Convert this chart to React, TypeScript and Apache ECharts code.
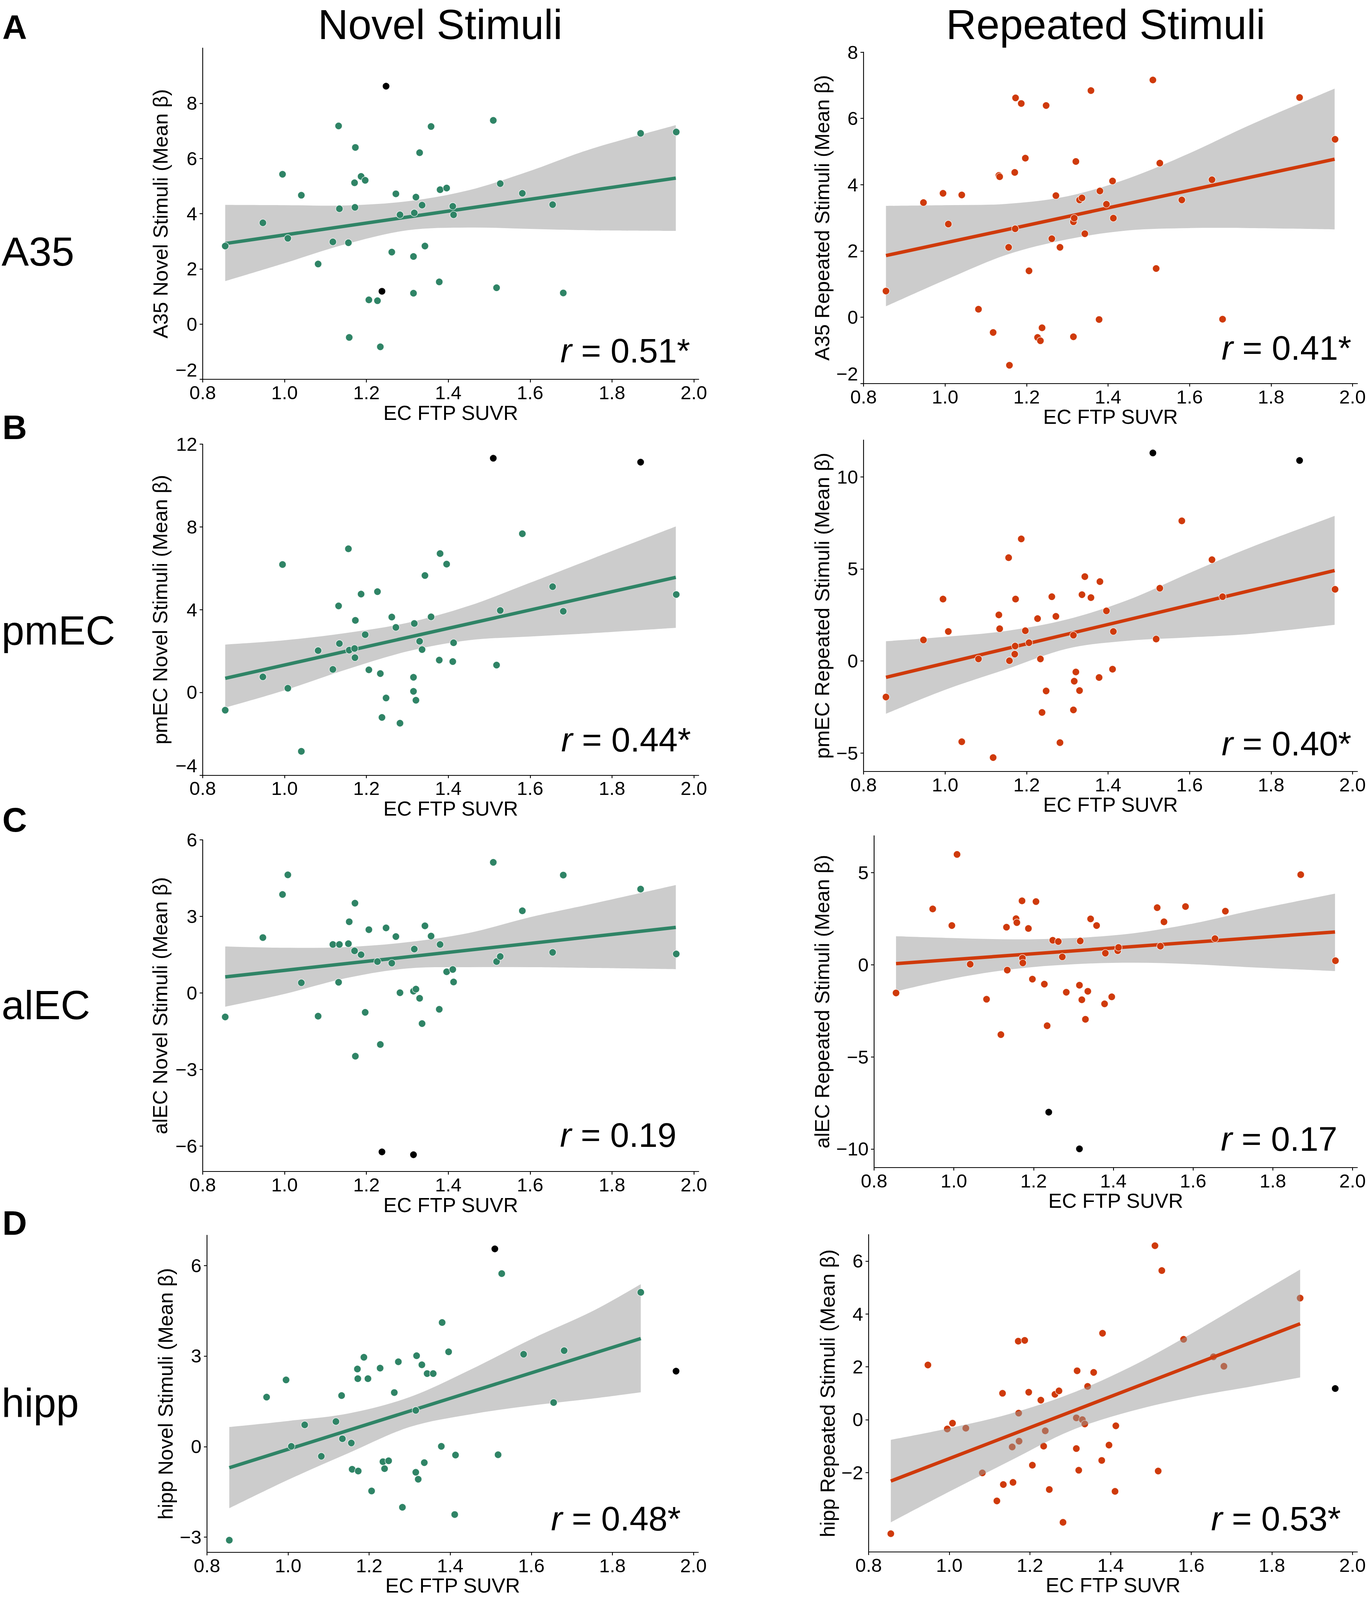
import React, { useEffect, useRef } from 'react';
import * as echarts from 'echarts';

// ---------- data ----------
// EC FTP SUVR (shared x for every panel, one value per participant)
const SUVR = [0.855, 0.947, 0.995, 1.008, 1.041, 1.082, 1.118, 1.132, 1.134, 1.156, 1.158, 1.171, 1.172, 1.173, 1.187,
  1.197, 1.206, 1.227, 1.234, 1.238, 1.248, 1.262, 1.272, 1.282, 1.315, 1.315, 1.317, 1.321, 1.330, 1.336, 1.343,
  1.358, 1.378, 1.380, 1.396, 1.411, 1.413, 1.510, 1.518, 1.527, 1.581, 1.655, 1.681, 1.870, 1.957];

const A35_NOVEL = [2.83, 3.67, 5.43, 3.11, 4.67, 2.18, 2.98, 7.18, 4.18, 2.95, -0.48, 5.12, 4.23, 6.40, 5.35,
  5.21, 0.88, 0.85, -0.82, 1.19, 8.62, 2.61, 4.72, 3.96, 1.12, 2.45, 4.03, 4.60, 6.21, 4.31, 2.83,
  7.16, 1.53, 4.87, 4.93, 4.27, 3.96, 7.38, 1.32, 5.09, 4.74, 4.33, 1.13, 6.91, 6.96];
const A35_REPEATED = [0.79, 3.46, 3.74, 2.81, 3.69, 0.24, -0.46, 4.28, 4.24, 2.11, -1.45, 4.37, 2.67, 6.62, 6.45,
  4.80, 1.40, -0.61, -0.71, -0.32, 6.39, 2.37, 3.67, 2.11, -0.59, 2.88, 2.99, 4.70, 3.54, 3.60, 2.52,
  6.84, -0.07, 3.81, 3.41, 4.11, 2.99, 7.16, 1.47, 4.65, 3.54, 4.15, -0.06, 6.63, 5.37];
const PMEC_NOVEL = [-0.86, 0.75, 6.18, 0.20, -2.85, 2.02, 1.11, 4.18, 2.36, 6.94, 2.04, 2.12, 1.68, 3.48, 4.75,
  2.79, 1.09, 4.87, 0.91, -1.21, -0.27, 3.64, 3.14, -1.49, 0.73, 0.05, 3.33, -0.38, 2.47, 2.07, 5.65,
  3.65, 1.56, 6.71, 6.20, 1.49, 2.40, 11.32, 1.32, 3.96, 7.67, 5.11, 3.92, 11.13, 4.73];
const PMEC_REPEATED = [-1.96, 1.14, 3.36, 1.60, -4.39, 0.11, -5.25, 2.50, 1.75, 5.61, 0.01, 0.37, 0.81, 3.36, 6.63,
  1.64, 0.99, 2.30, 0.11, -2.80, -1.63, 3.49, 2.42, -4.44, -2.66, 1.40, -1.10, -0.60, -1.61, 3.60, 4.58,
  3.44, -0.90, 4.31, 2.72, -0.45, 1.60, 11.30, 1.19, 3.95, 7.61, 5.50, 3.49, 10.89, 3.89];
const ALEC_NOVEL = [-0.94, 2.17, 3.86, 4.63, 0.40, -0.91, 1.90, 0.42, 1.90, 1.93, 2.79, 1.65, 3.52, -2.48, 1.50,
  -0.76, 2.48, 1.23, -2.02, -6.23, 2.55, 1.17, 2.21, 0.01, -6.34, 0.07, 1.72, 0.15, -0.21, -1.20, 2.63,
  2.23, -0.64, 1.90, 0.83, 0.92, 0.43, 5.12, 1.23, 1.43, 3.22, 1.59, 4.62, 4.07, 1.53];
const ALEC_REPEATED = [-1.53, 3.03, 2.13, 5.99, 0.03, -1.87, -3.79, 2.04, -0.29, 2.50, 2.29, 3.47, 0.36, 0.10, 1.97,
  -0.78, 3.43, -1.05, -3.31, -8.00, 1.33, 1.26, 0.43, -1.49, -9.99, -1.11, 1.29, -1.90, -2.96, -1.44, 2.49,
  2.13, -2.12, 0.63, -1.74, 0.76, 0.94, 3.10, 1.01, 2.33, 3.16, 1.42, 2.91, 4.89, 0.22];
const HIPP_NOVEL = [-3.10, 1.64, 2.21, 0.01, 0.72, -0.32, 0.83, 1.69, 0.26, 0.12, -0.75, 2.57, 2.25, -0.81, 2.96,
  2.25, -1.47, 2.60, -0.50, -0.73, -0.47, 1.79, 2.81, -2.01, -0.85, 1.20, 3.01, -1.08, 2.71, -0.53, 2.42,
  2.42, 0.01, 4.11, 3.14, -2.25, -0.28, 6.55, -0.27, 5.73, 3.06, 1.46, 3.18, 5.11, 2.50];
const HIPP_REPEATED = [-4.31, 2.07, -0.35, -0.13, -0.32, -2.01, -3.07, 1.00, -2.45, -1.03, -2.37, 2.97, 0.25, -0.81, 3.00,
  1.04, -1.72, 0.74, -1.00, -0.42, -2.64, 0.96, 1.09, -3.88, -1.09, 0.07, 1.85, -1.91, 0.00, -0.16, 1.26,
  1.79, -1.54, 3.27, -0.96, -2.71, -0.23, 6.58, -1.94, 5.64, 3.04, 2.38, 2.02, 4.60, 1.18];

// indices of excluded (black) participants
const OUT_A35_NOVEL = [19, 20];
const OUT_A35_REPEATED: number[] = [];
const OUT_PMEC_NOVEL = [37, 43];
const OUT_PMEC_REPEATED = [37, 43];
const OUT_ALEC_NOVEL = [19, 24];
const OUT_ALEC_REPEATED = [19, 24];
const OUT_HIPP_NOVEL = [37, 44];
const OUT_HIPP_REPEATED = [44];

// regression lines (end points)
const FIT_X = [0.855, 1.956];
const FIT_X_HIPP = [0.855, 1.870];
const FIT_A35_NOVEL = [2.92, 5.29];
const FIT_A35_REPEATED = [1.86, 4.77];
const FIT_PMEC_NOVEL = [0.68, 5.56];
const FIT_PMEC_REPEATED = [-0.89, 4.91];
const FIT_ALEC_NOVEL = [0.63, 2.57];
const FIT_ALEC_REPEATED = [0.06, 1.78];
const FIT_HIPP_NOVEL = [-0.70, 3.58];
const FIT_HIPP_REPEATED = [-2.32, 3.63];

// confidence bands read at these x positions
const BAND_X = [0.855, 1.0, 1.15, 1.3, 1.45, 1.6, 1.75, 1.956];
const BAND_X_HIPP = [0.855, 1.0, 1.15, 1.3, 1.45, 1.6, 1.75, 1.870];
const A35_NOVEL_UP = [4.32, 4.31, 4.30, 4.45, 4.85, 5.55, 6.35, 7.21];
const A35_NOVEL_LO = [1.56, 2.21, 2.90, 3.40, 3.50, 3.45, 3.40, 3.38];
const A35_REPEATED_UP = [3.36, 3.38, 3.42, 3.65, 4.19, 4.95, 5.81, 6.90];
const A35_REPEATED_LO = [0.33, 1.12, 1.88, 2.35, 2.62, 2.69, 2.69, 2.65];
const PMEC_NOVEL_UP = [2.31, 2.52, 2.87, 3.36, 4.18, 5.30, 6.45, 8.02];
const PMEC_NOVEL_LO = [-0.74, 0.10, 1.10, 1.98, 2.52, 2.70, 2.86, 3.12];
const PMEC_REPEATED_UP = [1.07, 1.31, 1.63, 2.26, 3.32, 4.78, 6.17, 7.88];
const PMEC_REPEATED_LO = [-2.87, -1.57, -0.45, 0.67, 1.10, 1.28, 1.47, 1.96];
const ALEC_NOVEL_UP = [1.82, 1.77, 1.80, 1.99, 2.35, 2.97, 3.49, 4.23];
const ALEC_NOVEL_LO = [-0.54, -0.04, 0.58, 0.96, 1.01, 1.01, 0.98, 0.93];
const ALEC_REPEATED_UP = [1.55, 1.45, 1.38, 1.45, 1.71, 2.24, 2.96, 3.86];
const ALEC_REPEATED_LO = [-1.44, -0.74, -0.23, 0.03, 0.11, 0.03, -0.14, -0.34];
const HIPP_NOVEL_UP = [0.65, 0.85, 1.10, 1.64, 2.55, 3.56, 4.48, 5.38];
const HIPP_NOVEL_LO = [-2.04, -1.10, -0.21, 0.65, 1.07, 1.36, 1.59, 1.80];
const HIPP_REPEATED_UP = [-0.76, -0.32, 0.22, 0.98, 2.00, 3.25, 4.60, 5.68];
const HIPP_REPEATED_LO = [-3.88, -2.72, -1.56, -0.42, 0.32, 0.85, 1.26, 1.60];

// correlation labels
const R_VALUES = ['0.51*', '0.41*', '0.44*', '0.40*', '0.19', '0.17', '0.48*', '0.53*'];

// tick labels
const X_TICKS = [0.8, 1.0, 1.2, 1.4, 1.6, 1.8, 2.0];
const Y_TICKS_A35_NOVEL = [-2, 0, 2, 4, 6, 8];
const Y_TICKS_A35_REPEATED = [-2, 0, 2, 4, 6, 8];
const Y_TICKS_PMEC_NOVEL = [-4, 0, 4, 8, 12];
const Y_TICKS_PMEC_REPEATED = [-5, 0, 5, 10];
const Y_TICKS_ALEC_NOVEL = [-6, -3, 0, 3, 6];
const Y_TICKS_ALEC_REPEATED = [-10, -5, 0, 5];
const Y_TICKS_HIPP_NOVEL = [-3, 0, 3, 6];
const Y_TICKS_HIPP_REPEATED = [-2, 0, 2, 4, 6];

const COLUMN_TITLES = ['Novel Stimuli', 'Repeated Stimuli'];
const ROW_LETTERS = ['A', 'B', 'C', 'D'];
const ROW_REGIONS = ['A35', 'pmEC', 'alEC', 'hipp'];

// ---------- styling / layout (reference pixel units, 3500 x 4694) ----------
const REF_W = 3500;
const REF_H = 4694;
const GREEN = '#2f8466';
const RED = '#cf3a0b';
const FONT = '"Liberation Sans", Arial, Helvetica, sans-serif';
const F_TICK = 56;
const F_AXIS_NAME = 60;
const F_R = 100;
const F_TITLE = 123;
const F_REGION = 120;
const F_LETTER = 100;

const PANELS = [
  { y: A35_NOVEL, out: OUT_A35_NOVEL, fx: FIT_X, fy: FIT_A35_NOVEL, bx: BAND_X, up: A35_NOVEL_UP, lo: A35_NOVEL_LO, ticks: Y_TICKS_A35_NOVEL, min: -2, max: 10, name: 'A35 Novel Stimuli (Mean β)', color: GREEN },
  { y: A35_REPEATED, out: OUT_A35_REPEATED, fx: FIT_X, fy: FIT_A35_REPEATED, bx: BAND_X, up: A35_REPEATED_UP, lo: A35_REPEATED_LO, ticks: Y_TICKS_A35_REPEATED, min: -2, max: 8, name: 'A35 Repeated Stimuli (Mean β)', color: RED },
  { y: PMEC_NOVEL, out: OUT_PMEC_NOVEL, fx: FIT_X, fy: FIT_PMEC_NOVEL, bx: BAND_X, up: PMEC_NOVEL_UP, lo: PMEC_NOVEL_LO, ticks: Y_TICKS_PMEC_NOVEL, min: -4, max: 12, name: 'pmEC Novel Stimuli (Mean β)', color: GREEN },
  { y: PMEC_REPEATED, out: OUT_PMEC_REPEATED, fx: FIT_X, fy: FIT_PMEC_REPEATED, bx: BAND_X, up: PMEC_REPEATED_UP, lo: PMEC_REPEATED_LO, ticks: Y_TICKS_PMEC_REPEATED, min: -6, max: 12, name: 'pmEC Repeated Stimuli (Mean β)', color: RED },
  { y: ALEC_NOVEL, out: OUT_ALEC_NOVEL, fx: FIT_X, fy: FIT_ALEC_NOVEL, bx: BAND_X, up: ALEC_NOVEL_UP, lo: ALEC_NOVEL_LO, ticks: Y_TICKS_ALEC_NOVEL, min: -7, max: 6, name: 'alEC Novel Stimuli (Mean β)', color: GREEN },
  { y: ALEC_REPEATED, out: OUT_ALEC_REPEATED, fx: FIT_X, fy: FIT_ALEC_REPEATED, bx: BAND_X, up: ALEC_REPEATED_UP, lo: ALEC_REPEATED_LO, ticks: Y_TICKS_ALEC_REPEATED, min: -11, max: 7, name: 'alEC Repeated Stimuli (Mean β)', color: RED },
  { y: HIPP_NOVEL, out: OUT_HIPP_NOVEL, fx: FIT_X_HIPP, fy: FIT_HIPP_NOVEL, bx: BAND_X_HIPP, up: HIPP_NOVEL_UP, lo: HIPP_NOVEL_LO, ticks: Y_TICKS_HIPP_NOVEL, min: -3.5, max: 7, name: 'hipp Novel Stimuli (Mean β)', color: GREEN },
  { y: HIPP_REPEATED, out: OUT_HIPP_REPEATED, fx: FIT_X_HIPP, fy: FIT_HIPP_REPEATED, bx: BAND_X_HIPP, up: HIPP_REPEATED_UP, lo: HIPP_REPEATED_LO, ticks: Y_TICKS_HIPP_REPEATED, min: -5, max: 7, name: 'hipp Repeated Stimuli (Mean β)', color: RED },
];

const LAYOUT = [
  { left: 519, top: 141, width: 1270, height: 972, gap: 82, xgap: 68, rx: 1767, ry: 1029, bandOnTop: false, minAtCorner: true },
  { left: 2211, top: 153, width: 1267, height: 972, gap: 80, xgap: 68, rx: 3460, ry: 1020, bandOnTop: false, minAtCorner: true },
  { left: 519, top: 1303, width: 1270, height: 971, gap: 83, xgap: 68, rx: 1769, ry: 2170, bandOnTop: false, minAtCorner: true },
  { left: 2211, top: 1291, width: 1267, height: 972, gap: 80, xgap: 68, rx: 3460, ry: 2181, bandOnTop: false, minAtCorner: false },
  { left: 519, top: 2464, width: 1270, height: 973, gap: 83, xgap: 68, rx: 1732, ry: 3330, bandOnTop: false, minAtCorner: false },
  { left: 2238, top: 2452, width: 1240, height: 973, gap: 107, xgap: 68, rx: 3424, ry: 3341, bandOnTop: false, minAtCorner: false },
  { left: 530, top: 3624, width: 1258, height: 930, gap: 80, xgap: 63, rx: 1743, ry: 4455, bandOnTop: false, minAtCorner: false },
  { left: 2224, top: 3622, width: 1254, height: 931, gap: 79, xgap: 63, rx: 3433, ry: 4455, bandOnTop: true, minAtCorner: false },
];

const TITLE_POS = [{ x: 1127, y: 72 }, { x: 2831, y: 72 }];
const LETTER_Y = [78, 1253, 2405, 3588];
const REGION_Y = [737, 1849, 2948, 4115];

const fmtY = (v: number) => (v < 0 ? '\u2212' + Math.abs(v) : String(v));

// smooth band outline (drawn through the points given by the axes)
function splineTo(ctx: any, pts: number[][]) {
  for (let i = 0; i < pts.length - 1; i++) {
    const p0 = pts[i - 1] || pts[i];
    const p1 = pts[i];
    const p2 = pts[i + 1];
    const p3 = pts[i + 2] || pts[i + 1];
    ctx.bezierCurveTo(
      p1[0] + (p2[0] - p0[0]) / 6, p1[1] + (p2[1] - p0[1]) / 6,
      p2[0] - (p3[0] - p1[0]) / 6, p2[1] - (p3[1] - p1[1]) / 6,
      p2[0], p2[1]);
  }
}
let registered = false;
function registerBand() {
  if (registered) return;
  registered = true;
  const Band = (echarts as any).graphic.extendShape({
    shape: { up: [], lo: [] },
    buildPath(ctx: any, shape: any) {
      const up = shape.up as number[][];
      const lo = (shape.lo as number[][]).slice().reverse();
      if (!up.length) return;
      ctx.moveTo(up[0][0], up[0][1]);
      splineTo(ctx, up);
      ctx.lineTo(lo[0][0], lo[0][1]);
      splineTo(ctx, lo);
      ctx.closePath();
    },
  });
  (echarts as any).graphic.registerShape('ciband', Band);
}

function buildOption(W: number, H: number) {
  const sx = W / REF_W;
  const sy = H / REF_H;
  const fs = Math.min(sx, sy);
  const grid: any[] = [];
  const xAxis: any[] = [];
  const yAxis: any[] = [];
  const series: any[] = [];
  const graphic: any[] = [];

  PANELS.forEach((p, i) => {
    const L = LAYOUT[i];
    grid.push({ left: L.left * sx, top: L.top * sy, width: L.width * sx, height: L.height * sy, containLabel: false });
    xAxis.push({
      type: 'value', gridIndex: i, min: 0.8, max: 2.012,
      axisLine: { show: true, onZero: false, lineStyle: { color: '#000', width: 2.5 * fs } },
      axisTick: { show: true, length: 9 * fs, lineStyle: { color: '#000', width: 2.5 * fs }, customValues: X_TICKS },
      axisLabel: { show: true, customValues: X_TICKS, fontSize: F_TICK * fs, color: '#000', margin: 11 * sy, fontFamily: FONT, formatter: (v: number) => v.toFixed(1) },
      splitLine: { show: false },
      name: 'EC FTP SUVR', nameLocation: 'middle', nameGap: L.xgap * sy,
      nameTextStyle: { fontSize: F_AXIS_NAME * fs, color: '#000', fontFamily: FONT },
    });
    const yLabel: any = { show: true, customValues: p.ticks, fontSize: F_TICK * fs, color: '#000', margin: 14 * sx, fontFamily: FONT, formatter: fmtY };
    if (L.minAtCorner) yLabel.verticalAlignMinLabel = 'bottom';
    yAxis.push({
      type: 'value', gridIndex: i, min: p.min, max: p.max,
      axisLine: { show: true, onZero: false, lineStyle: { color: '#000', width: 2.5 * fs } },
      axisTick: { show: true, length: 9 * fs, lineStyle: { color: '#000', width: 2.5 * fs }, customValues: p.ticks },
      axisLabel: yLabel,
      splitLine: { show: false },
      name: p.name, nameLocation: 'middle', nameGap: L.gap * sx, nameRotate: 90,
      nameTextStyle: { fontSize: F_AXIS_NAME * fs, color: '#000', fontFamily: FONT },
    });

    const zBand = L.bandOnTop ? 3 : 2;
    const zLine = L.bandOnTop ? 4 : 3;
    const zScatter = L.bandOnTop ? 2 : 4;
    const bandColor = L.bandOnTop ? 'rgba(153,153,153,0.5)' : '#cccccc';

    series.push({
      type: 'custom', xAxisIndex: i, yAxisIndex: i, z: zBand, silent: true,
      data: [[p.bx[0], p.lo[0]]],
      encode: { x: 0, y: 1 },
      renderItem: (_params: any, api: any) => ({
        type: 'ciband',
        shape: {
          up: p.bx.map((x, k) => api.coord([x, p.up[k]])),
          lo: p.bx.map((x, k) => api.coord([x, p.lo[k]])),
        },
        style: { fill: bandColor, stroke: null, lineWidth: 0 },
      }),
    });
    series.push({
      type: 'line', xAxisIndex: i, yAxisIndex: i,
      data: p.fx.map((x, k) => [x, p.fy[k]]), symbol: 'none',
      lineStyle: { color: p.color, width: 10 * fs }, silent: true, z: zLine,
    });
    series.push({
      type: 'scatter', xAxisIndex: i, yAxisIndex: i, symbolSize: 21 * fs, z: zScatter,
      itemStyle: { color: p.color, borderColor: 'rgba(255,255,255,0.85)', borderWidth: 1.5 * fs, opacity: 1 },
      data: SUVR.map((x, k) => (p.out.includes(k)
        ? { value: [x, p.y[k]], itemStyle: { color: '#000' } }
        : { value: [x, p.y[k]] })),
    });

    graphic.push({
      type: 'text', x: L.rx * sx, y: L.ry * sy, z: 100,
      style: {
        text: '{i|r} = ' + R_VALUES[i],
        rich: { i: { fontStyle: 'italic', fontSize: F_R * fs, fontFamily: FONT, fill: '#000' } },
        fontSize: F_R * fs, fontFamily: FONT, fill: '#000',
        align: 'right', verticalAlign: 'middle',
      },
    });
  });

  COLUMN_TITLES.forEach((t, c) => {
    graphic.push({
      type: 'text', x: TITLE_POS[c].x * sx, y: TITLE_POS[c].y * sy,
      style: { text: t, fontSize: F_TITLE * fs, fontFamily: FONT, fill: '#000', align: 'center', verticalAlign: 'middle' },
    });
  });
  ROW_LETTERS.forEach((t, r) => {
    graphic.push({
      type: 'text', x: 6 * sx, y: LETTER_Y[r] * sy,
      style: { text: t, fontSize: F_LETTER * fs, fontWeight: 'bold', fontFamily: FONT, fill: '#000', align: 'left', verticalAlign: 'middle' },
    });
    graphic.push({
      type: 'text', x: 4 * sx, y: REGION_Y[r] * sy,
      style: { text: ROW_REGIONS[r], fontSize: F_REGION * fs, fontFamily: FONT, fill: '#000', align: 'left', verticalAlign: 'middle' },
    });
  });

  return { animation: false, backgroundColor: '#ffffff', grid, xAxis, yAxis, series, graphic };
}

export default function App() {
  const ref = useRef<HTMLDivElement>(null);
  useEffect(() => {
    const el = ref.current;
    if (!el) return;
    registerBand();
    const W = el.clientWidth || REF_W;
    const H = el.clientHeight || REF_H;
    const chart = echarts.init(el, undefined, { renderer: 'svg', width: W, height: H });
    chart.setOption(buildOption(W, H) as any);
    return () => chart.dispose();
  }, []);
  return (
    <div
      ref={ref}
      style={{ position: 'absolute', left: 0, top: 0, width: '100vw', height: '100vh', maxWidth: REF_W + 'px', maxHeight: REF_H + 'px', overflow: 'hidden' }}
    />
  );
}
